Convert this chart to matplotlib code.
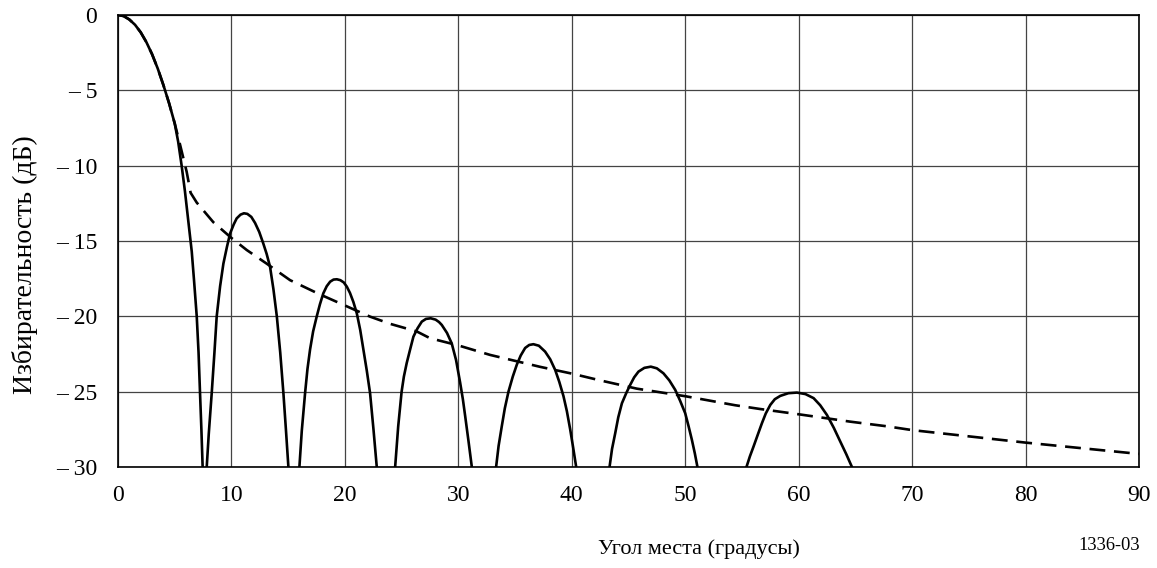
import matplotlib
matplotlib.use("Agg")
import matplotlib.pyplot as plt
import numpy as np

# elevation pattern, dB vs elevation angle (deg); each lobe drawn separately
main_x = [0, 0.5, 1, 1.5, 2, 2.5, 3, 3.5, 4, 4.5, 5, 5.3, 5.6, 5.9, 6.2, 6.5, 6.7, 6.94,
          7.1, 7.23, 7.35, 7.46]
main_y = [0, -0.07, -0.3, -0.65, -1.15, -1.8, -2.6, -3.55, -4.65, -5.85, -7.2, -8.4,
          -9.95, -11.7, -13.7, -15.7, -17.6, -20, -22.4, -25.1, -27.5, -30]

lobe1_x = [7.82, 8.0, 8.26, 8.5, 8.7, 9.0, 9.29, 9.6, 9.88, 10.2, 10.46, 10.8, 11.1, 11.4,
           11.75, 12.08, 12.45, 12.8, 13.1, 13.4, 13.7, 14.0, 14.3, 14.58, 14.8, 15.02]
lobe1_y = [-30, -27.8, -25.1, -22.4, -20, -18.0, -16.5, -15.4, -14.5, -13.9, -13.5, -13.25,
           -13.16, -13.2, -13.4, -13.8, -14.4, -15.15, -15.85, -16.7, -18.2, -20, -22.4,
           -25.1, -27.5, -30]

lobe2_x = [15.99, 16.2, 16.49, 16.7, 16.93, 17.2, 17.52, 17.8, 18.1, 18.4, 18.7, 19.0,
           19.29, 19.6, 19.9, 20.17, 20.45, 20.75, 21.05, 21.35, 21.63, 21.93, 22.22,
           22.52, 22.81]
lobe2_y = [-30, -27.6, -25.1, -23.5, -22.2, -21.0, -20, -19.2, -18.47, -18.0, -17.7, -17.56,
           -17.54, -17.6, -17.75, -18.03, -18.45, -19.05, -19.8, -20.9, -22.2, -23.6, -25.1,
           -27.5, -30]

lobe3_x = [24.43, 24.7, 25.0, 25.2, 25.45, 25.75, 26.04, 26.4, 26.78, 27.15, 27.57, 28.0,
           28.3, 28.54, 29.0, 29.42, 29.8, 30.16, 30.4, 30.6, 30.9, 31.19]
lobe3_y = [-30, -27.3, -25.0, -24.0, -23.1, -22.2, -21.35, -20.8, -20.35, -20.17, -20.13,
           -20.22, -20.38, -20.57, -21.1, -21.8, -22.9, -24.4, -25.5, -26.6, -28.3, -30]

lobe4_x = [33.33, 33.55, 33.83, 34.1, 34.42, 34.8, 35.16, 35.5, 35.89, 36.25, 36.62, 37.1,
           37.65, 38.1, 38.54, 38.9, 39.27, 39.57, 39.86, 40.12, 40.39]
lobe4_y = [-30, -28.6, -27.3, -26.1, -25.0, -24.0, -23.2, -22.6, -22.1, -21.9, -21.85,
           -21.95, -22.34, -22.85, -23.56, -24.35, -25.3, -26.3, -27.5, -28.7, -30]

lobe5_x = [43.33, 43.55, 43.83, 44.1, 44.42, 44.8, 45.15, 45.5, 45.88, 46.4, 46.97, 47.5,
           48.08, 48.6, 49.12, 49.55, 50.0, 50.3, 50.59, 50.85, 51.08]
lobe5_y = [-30, -28.8, -27.76, -26.7, -25.77, -25.1, -24.55, -24.05, -23.67, -23.42, -23.34,
           -23.45, -23.78, -24.25, -24.88, -25.6, -26.43, -27.3, -28.2, -29.1, -30]

lobe6_x = [55.4, 55.7, 56.02, 56.4, 56.76, 57.1, 57.5, 57.9, 58.38, 59.1, 59.85, 60.6,
           61.32, 61.9, 62.49, 63.1, 63.67, 64.2, 64.7]
lobe6_y = [-30, -29.3, -28.65, -27.85, -27.1, -26.45, -25.88, -25.5, -25.28, -25.1, -25.06,
           -25.16, -25.43, -25.9, -26.54, -27.4, -28.31, -29.15, -30]

# envelope (dashed)
env_x = [0, 0.5, 1, 1.5, 2, 2.5, 3, 3.5, 4, 4.5, 5, 5.5, 6.05, 6.4, 6.94, 8.4, 10.0, 11.35,
         13.1, 15.17, 17.67, 20.0, 22.22, 24.0, 26.33, 27.5, 30.0, 32.8, 37.2, 40.0, 42.5,
         45.74, 50.0, 54.4, 56.6, 60.0, 64.55, 67.8, 70.0, 80.0, 90.0]
env_y = [0, -0.07, -0.3, -0.65, -1.15, -1.8, -2.6, -3.55, -4.65, -5.85, -7.2, -8.7, -10.4,
         -11.8, -12.45, -13.75, -14.8, -15.6, -16.5, -17.6, -18.5, -19.28, -20.02, -20.5,
         -21.0, -21.45, -21.93, -22.56, -23.35, -23.8, -24.25, -24.8, -25.3, -25.9, -26.15,
         -26.5, -26.99, -27.3, -27.55, -28.38, -29.13]

xticks = [0, 10, 20, 30, 40, 50, 60, 70, 80, 90]
yticks = [0, -5, -10, -15, -20, -25, -30]
ytick_labels = ["0", "\u2013 5", "\u2013 10", "\u2013 15", "\u2013 20", "\u2013 25", "\u2013 30"]

plt.rcParams["font.family"] = ["Liberation Serif", "DejaVu Serif"]

fig = plt.figure(figsize=(11.57, 5.68), dpi=100)
ax = fig.add_axes([0.102, 0.1778, 0.8824, 0.7958])

lobes = [(main_x, main_y), (lobe1_x, lobe1_y), (lobe2_x, lobe2_y), (lobe3_x, lobe3_y),
         (lobe4_x, lobe4_y), (lobe5_x, lobe5_y), (lobe6_x, lobe6_y)]
for lx, ly in lobes:
    ax.plot(lx, ly, color="black", lw=1.9, solid_joinstyle="round", zorder=3)

ax.plot(env_x, env_y, color="black", lw=1.9, linestyle=(0, (6, 3.3)), zorder=3)

ax.set_xlim(0, 90)
ax.set_ylim(-30, 0)
ax.set_xticks(xticks)
ax.set_yticks(yticks)
ax.set_yticklabels(ytick_labels)
ax.tick_params(length=0, labelsize=17)
ax.tick_params(axis="y", pad=15)
ax.tick_params(axis="x", pad=13)
ax.grid(True, color="#444444", lw=0.9)
ax.set_axisbelow(True)
for s in ax.spines.values():
    s.set_linewidth(1.2)

# axis titles placed in figure pixels
W, H = 1157, 568
fig.text(699 / W, 1 - 549 / H, "Угол места (градусы)", fontsize=16, ha="center", va="center")
fig.text(25 / W, 1 - 265 / H, "Избирательность (дБ)", fontsize=20, rotation=90,
         ha="center", va="center")
fig.text(1140 / W, 1 - 546 / H, "1336-03", fontsize=13.3, ha="right", va="center")

fig.savefig("out.png", dpi=100)
